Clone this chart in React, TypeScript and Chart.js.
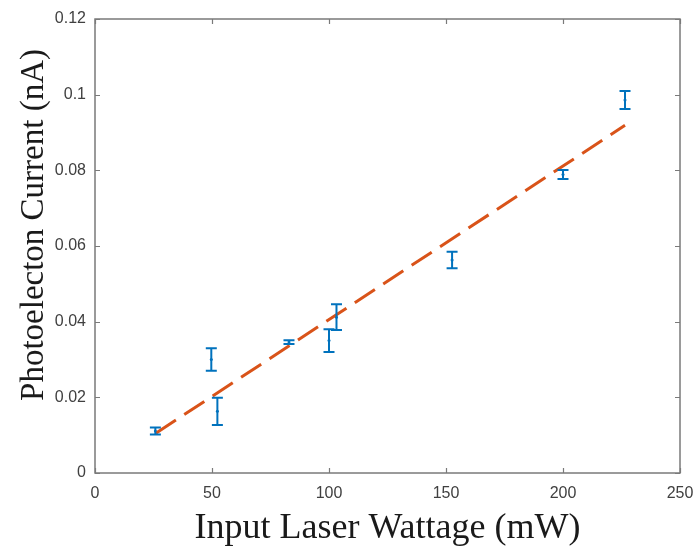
import React, { useEffect, useRef } from "react";
import { Chart, registerables } from "chart.js";

Chart.register(...registerables);

const wattage = [25.8, 49.7, 52.3, 82.9, 100, 103.2, 152.6, 200, 226.5];
const current = [0.0111, 0.0300, 0.0163, 0.0346, 0.0350, 0.0412, 0.0563, 0.0789, 0.0986];
const errors = [0.0009, 0.0030, 0.0036, 0.0005, 0.0030, 0.0034, 0.0022, 0.0012, 0.0024];
const fitX = [26, 226.5];
const fitY = [0.0105, 0.0919];
const xTicks = [0, 50, 100, 150, 200, 250];
const yTicks = [0, 0.02, 0.04, 0.06, 0.08, 0.1, 0.12];

const BLUE = "#0072BD";
const ORANGE = "#D95319";
const AXIS = "#7a7a7a";

const framePlugin = {
  id: "frame",
  afterDatasetsDraw(chart: any) {
    const { ctx, chartArea, scales } = chart;
    const { left, right, top, bottom } = chartArea;
    const xs = scales.x;
    const ys = scales.y;
    ctx.save();
    // error bars
    ctx.strokeStyle = BLUE;
    ctx.lineWidth = 2;
    for (let i = 0; i < wattage.length; i++) {
      const px = xs.getPixelForValue(wattage[i]);
      const y1 = ys.getPixelForValue(current[i] - errors[i]);
      const y2 = ys.getPixelForValue(current[i] + errors[i]);
      ctx.beginPath();
      ctx.moveTo(px, y1);
      ctx.lineTo(px, y2);
      ctx.moveTo(px - 5.5, y1);
      ctx.lineTo(px + 5.5, y1);
      ctx.moveTo(px - 5.5, y2);
      ctx.lineTo(px + 5.5, y2);
      ctx.stroke();
    }
    // box
    ctx.strokeStyle = AXIS;
    ctx.lineWidth = 1.5;
    ctx.strokeRect(left, top, right - left, bottom - top);
    // ticks inward
    ctx.lineWidth = 1.2;
    ctx.beginPath();
    for (const t of xTicks) {
      const px = Math.round(xs.getPixelForValue(t)) + 0.5;
      ctx.moveTo(px, bottom);
      ctx.lineTo(px, bottom - 5);
      ctx.moveTo(px, top);
      ctx.lineTo(px, top + 5);
    }
    for (const t of yTicks) {
      const py = Math.round(ys.getPixelForValue(t)) + 0.5;
      ctx.moveTo(left, py);
      ctx.lineTo(left + 5, py);
      ctx.moveTo(right, py);
      ctx.lineTo(right - 5, py);
    }
    ctx.stroke();
    // titles
    ctx.fillStyle = "#1a1a1a";
    ctx.textAlign = "center";
    ctx.textBaseline = "alphabetic";
    ctx.font = "36px 'Liberation Serif', 'DejaVu Serif', serif";
    ctx.fillText("Input Laser Wattage (mW)", (left + right) / 2, 538);
    ctx.font = "33px 'Liberation Serif', 'DejaVu Serif', serif";
    ctx.translate(43, 225);
    ctx.rotate(-Math.PI / 2);
    ctx.fillText("Photoelecton Current (nA)", 0, 0);
    ctx.restore();
  },
};

export default function App() {
  const ref = useRef<HTMLCanvasElement | null>(null);
  useEffect(() => {
    document.body.style.margin = "0";
    const canvas = ref.current!;
    const chart = new Chart(canvas, {
      type: "scatter",
      data: {
        datasets: [
          {
            type: "line",
            label: "Fit",
            data: fitX.map((x, i) => ({ x, y: fitY[i] })),
            borderColor: ORANGE,
            borderWidth: 3,
            borderDash: [24, 10],
            pointRadius: 0,
            fill: false,
          } as any,
          {
            label: "Data",
            data: wattage.map((x, i) => ({ x, y: current[i] })),
            backgroundColor: BLUE,
            borderColor: BLUE,
            pointRadius: 1.5,
            pointBorderWidth: 0,
          },
        ],
      },
      options: {
        animation: false,
        responsive: false,
        devicePixelRatio: 1,
        layout: { padding: { left: 0, right: 15, top: 19, bottom: 0 } },
        plugins: { legend: { display: false }, tooltip: { enabled: false } },
        scales: {
          x: {
            type: "linear",
            min: 0,
            max: 250,
            afterBuildTicks(s: any) {
              s.ticks = xTicks.map((v) => ({ value: v }));
            },
            afterFit(s: any) {
              s.height = 73;
              s.paddingLeft = 0;
              s.paddingRight = 0;
            },
            grid: { display: false, drawTicks: false },
            border: { display: false },
            ticks: {
              padding: 11,
              color: "#404040",
              font: { family: "'Liberation Sans', Arial, sans-serif", size: 16 },
              maxRotation: 0,
            },
          },
          y: {
            type: "linear",
            min: 0,
            max: 0.12,
            afterBuildTicks(s: any) {
              s.ticks = yTicks.map((v) => ({ value: v }));
            },
            afterFit(s: any) {
              s.width = 95;
              s.paddingTop = 0;
              s.paddingBottom = 0;
            },
            grid: { display: false, drawTicks: false },
            border: { display: false },
            ticks: {
              padding: 9,
              color: "#404040",
              font: { family: "'Liberation Sans', Arial, sans-serif", size: 16 },
              callback: (v: any) => String(Number(Number(v).toFixed(2))),
            },
          },
        },
      },
      plugins: [framePlugin],
    });
    return () => chart.destroy();
  }, []);
  return (
    <div style={{ width: 695, height: 546, background: "#fff" }}>
      <canvas ref={ref} width={695} height={546} style={{ display: "block" }} />
    </div>
  );
}
